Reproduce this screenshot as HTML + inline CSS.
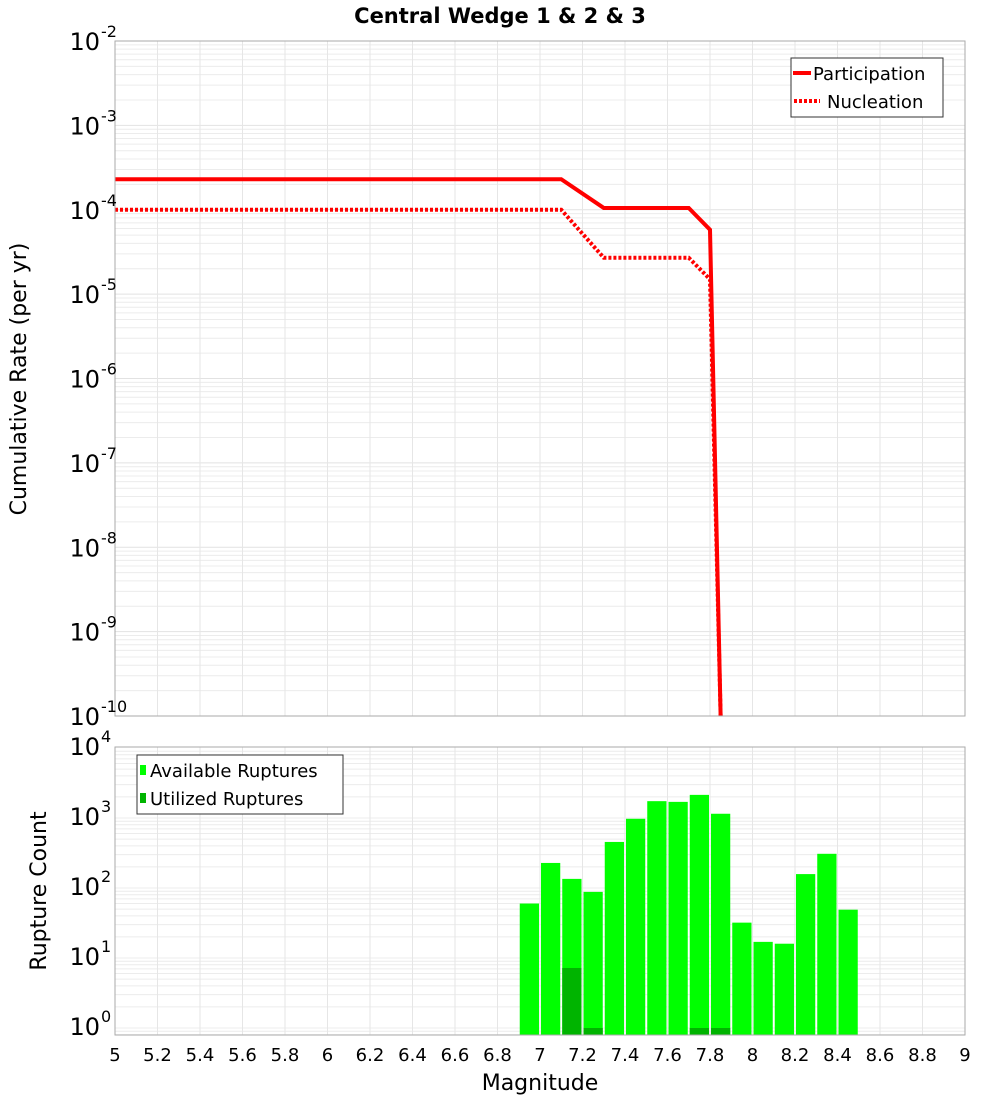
<!DOCTYPE html>
<html><head><meta charset="utf-8"><style>
body{margin:0;background:#fff}
svg{display:block;font-family:"DejaVu Sans","Liberation Sans",sans-serif}
</style></head><body>
<svg id="chart" width="1000" height="1100" viewBox="0 0 1000 1100">
<text x="500" y="23" text-anchor="middle" font-size="21" font-weight="bold">Central Wedge 1 &amp; 2 &amp; 3</text>
<g id="top-grid"></g>
<g id="bot-grid"></g>
<g id="bars"></g>
<g id="lines"></g>
<rect x="115" y="41" width="850" height="675" fill="none" stroke="#aaa"/>
<rect x="115" y="747" width="850" height="288" fill="none" stroke="#aaa"/>
<g id="axes"></g>
<text transform="translate(26,379) rotate(-90)" text-anchor="middle" font-size="22">Cumulative Rate (per yr)</text>
<text transform="translate(46,891) rotate(-90)" text-anchor="middle" font-size="22">Rupture Count</text>
<text x="540" y="1090" text-anchor="middle" font-size="22">Magnitude</text>
<g>
<rect x="791" y="58" width="152" height="59" fill="#fff" stroke="#333"/>
<line x1="793" y1="73" x2="811" y2="73" stroke="#f00" stroke-width="4"/>
<text x="813" y="80" font-size="18">Participation</text>
<line x1="794" y1="101" x2="820" y2="101" stroke="#f00" stroke-width="4" stroke-dasharray="3,2"/>
<text x="827" y="108" font-size="18">Nucleation</text>
</g>
<g>
<rect x="137" y="755" width="206" height="59" fill="#fff" stroke="#333"/>
<rect x="140" y="765" width="6" height="10" fill="#00ff00"/>
<text x="150" y="777" font-size="18">Available Ruptures</text>
<rect x="140" y="793" width="6" height="10" fill="#00b400"/>
<text x="150" y="805" font-size="18">Utilized Ruptures</text>
</g>
</svg>
<script>
const partMags=[5,7.1,7.3,7.7,7.8,7.85];
const partVals=[2.3e-4,2.3e-4,1.05e-4,1.05e-4,5.8e-5,1e-11];
const nuclMags=[5,7.1,7.3,7.7,7.8,7.85];
const nuclVals=[1.0e-4,1.0e-4,2.7e-5,2.7e-5,1.5e-5,1e-11];
const binCenters=[6.95,7.05,7.15,7.25,7.35,7.45,7.55,7.65,7.75,7.85,7.95,8.05,8.15,8.25,8.35,8.45];
const availCounts=[60,228,135,88,455,975,1740,1700,2140,1150,32,17,16,158,308,49];
const utilCounts=[0,0,7.2,1,0,0,0,0,1,1,0,0,0,0,0,0];
const xTicks=[5,5.2,5.4,5.6,5.8,6,6.2,6.4,6.6,6.8,7,7.2,7.4,7.6,7.8,8,8.2,8.4,8.6,8.8,9];
const topExps=[-2,-3,-4,-5,-6,-7,-8,-9,-10];
const botExps=[4,3,2,1,0];
const NS="http://www.w3.org/2000/svg";
const X=m=>115+(m-5)*212.5;
const yTop=v=>41+(-2-Math.log10(v))*84.375;
const yBot=v=>748+(4-Math.log10(v))*70;
function mk(tag,attrs,parent){const e=document.createElementNS(NS,tag);for(const k in attrs)e.setAttribute(k,attrs[k]);document.getElementById(parent).appendChild(e);return e;}
// grids
for(let e=-10;e<-2;e++)for(let k=1;k<10;k++){const y=yTop(k*Math.pow(10,e));const l=mk('line',{x1:115,x2:965,y1:y,y2:y,stroke:k==1?'#e2e2e2':'#ececec','stroke-width':1},'top-grid');

}
for(let e=-1;e<4;e++)for(let k=1;k<10;k++){const y=yBot(k*Math.pow(10,e));if(y>1035)continue;const l=mk('line',{x1:115,x2:965,y1:y,y2:y,stroke:'#ececec','stroke-width':1},'bot-grid');

}
xTicks.forEach(m=>{const x=X(m);
const a=mk('line',{x1:x,x2:x,y1:41,y2:716,stroke:'#e6e6e6'},'top-grid');


const b=mk('line',{x1:x,x2:x,y1:747,y2:1035,stroke:'#e6e6e6'},'bot-grid');


const t=mk('text',{x:x,y:1061,'text-anchor':'middle','font-size':18},'axes');t.textContent=String(m);

});
function ylab(y,e,parent){const t=mk('text',{x:100,y:y+9,'text-anchor':'end','font-size':24},parent);t.textContent='10';


const s=mk('text',{x:101,y:y-4,'font-size':16},parent);s.textContent=String(e);

}
topExps.forEach(e=>ylab(yTop(Math.pow(10,e)),e,'axes'));
botExps.forEach(e=>ylab(yBot(Math.pow(10,e))-2,e,'axes'));
// bars
const yb=1035;
binCenters.forEach((c,i)=>{const x0=X(c-0.05)+1,x1=X(c+0.05)-1;
if(availCounts[i]>0){const y=yBot(availCounts[i]);const r=mk('rect',{x:x0,y:y,width:x1-x0,height:yb-y,fill:'#00ff00'},'bars');

}
if(utilCounts[i]>0){const y=Math.min(yBot(utilCounts[i]),yb-7);const r=mk('rect',{x:x0,y:y,width:x1-x0,height:yb-y,fill:'#00b400'},'bars');

}});
// lines
function line(ms,vs,dash,name){const pts=ms.map((m,i)=>X(m)+','+Math.min(yTop(vs[i]),716)).join(' ');
const p=mk('polyline',{points:pts,fill:'none',stroke:'#f00','stroke-width':4,'stroke-linejoin':'miter'},'lines');if(dash)p.setAttribute('stroke-dasharray','3,2');

}
line(nuclMags,nuclVals,true,'nucleation-line');
line(partMags,partVals,false,'participation-line');
</script>
</body></html>
